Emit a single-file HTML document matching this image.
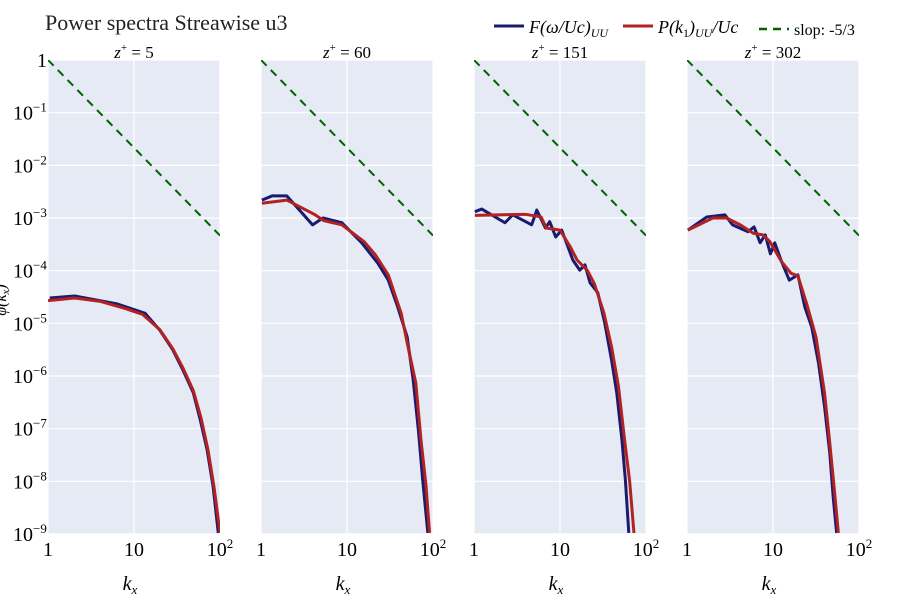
<!DOCTYPE html>
<html><head><meta charset="utf-8"><style>
body{margin:0;background:#fff;}
svg{display:block;font-family:"Liberation Serif",serif;}
</style></head><body>
<svg id="chart" width="900" height="600" xmlns="http://www.w3.org/2000/svg">
<text x="45" y="30" font-size="22" fill="#222">Power spectra Streawise u3</text>
<g>
<line x1="494" y1="26" x2="524" y2="26" stroke="#1a1a6e" stroke-width="3"/>
<text x="529" y="33" font-size="18" font-style="italic">F(ω/Uc)<tspan font-size="12" dy="4">UU</tspan></text>
<line x1="623" y1="26" x2="653" y2="26" stroke="#b22222" stroke-width="3"/>
<text x="658" y="33" font-size="18" font-style="italic">P(k<tspan font-size="12" dy="4" font-style="normal">1</tspan><tspan dy="-4">)</tspan><tspan font-size="12" dy="4">UU</tspan><tspan dy="-4">/Uc</tspan></text>
<line x1="759" y1="29" x2="789" y2="29" stroke="#006400" stroke-width="2.5" stroke-dasharray="8,6"/>
<text x="794" y="35" font-size="16">slop: -5/3</text>
</g>
<text transform="translate(6,300) rotate(-90)" text-anchor="middle" font-size="16" font-style="italic">φ(k<tspan font-size="11" dy="3">x</tspan><tspan dy="-3">)</tspan></text>
</svg>
<script>
const panelTitles=["5","60","151","302"];
const yTickExps=[0,-1,-2,-3,-4,-5,-6,-7,-8,-9];
const xTickExps=[0,1,2];
// series: log10(k) and log10(value)
const blueLogK=[
[0.02,0.31,0.80,1.13,1.30,1.45,1.57,1.69,1.77,1.85,1.92,1.98],
[0.01,0.13,0.30,0.60,0.72,0.94,1.17,1.36,1.48,1.59,1.70,1.77,1.83,1.88,1.94],
[0.01,0.09,0.36,0.45,0.67,0.73,0.83,0.88,0.95,1.02,1.15,1.23,1.29,1.35,1.44,1.52,1.60,1.66,1.72,1.76,1.80],
[0.01,0.23,0.44,0.53,0.71,0.78,0.85,0.91,0.97,1.02,1.10,1.19,1.29,1.37,1.45,1.53,1.60,1.66,1.70,1.74]];
const blueLogV=[
[-4.52,-4.48,-4.63,-4.81,-5.13,-5.5,-5.89,-6.32,-6.83,-7.4,-8.1,-8.98],
[-2.66,-2.58,-2.58,-3.13,-3.0,-3.09,-3.47,-3.86,-4.18,-4.69,-5.26,-6.08,-7.03,-7.97,-8.98],
[-2.88,-2.83,-3.09,-2.94,-3.13,-2.85,-3.19,-3.07,-3.36,-3.23,-3.8,-3.99,-3.89,-4.23,-4.42,-4.99,-5.7,-6.32,-7.21,-7.97,-8.98],
[-3.23,-2.98,-2.94,-3.13,-3.26,-3.17,-3.47,-3.32,-3.68,-3.47,-3.83,-4.18,-4.08,-4.69,-5.07,-5.76,-6.59,-7.46,-8.3,-8.98]];
const redLogK=[
[0.0,0.31,0.6,0.9,1.1,1.30,1.45,1.57,1.69,1.78,1.86,1.93,2.0],
[0.01,0.30,0.63,0.73,0.94,1.20,1.33,1.48,1.63,1.71,1.80,1.86,1.92,1.96],
[0.01,0.60,0.78,0.84,1.0,1.12,1.2,1.32,1.4,1.51,1.6,1.68,1.75,1.81,1.86],
[0.01,0.30,0.46,0.62,0.77,0.88,0.96,1.10,1.21,1.29,1.39,1.50,1.60,1.66,1.71,1.76]];
const redLogV=[
[-4.57,-4.52,-4.58,-4.72,-4.83,-5.12,-5.48,-5.85,-6.28,-6.8,-7.4,-8.1,-8.98],
[-2.72,-2.66,-2.94,-3.05,-3.13,-3.45,-3.7,-4.08,-4.81,-5.45,-6.13,-7.21,-8.1,-8.98],
[-2.95,-2.93,-2.98,-3.19,-3.23,-3.55,-3.8,-4.0,-4.25,-4.8,-5.45,-6.2,-7.2,-8.0,-8.98],
[-3.23,-3.0,-3.0,-3.13,-3.29,-3.32,-3.44,-3.83,-4.05,-4.1,-4.62,-5.26,-6.33,-7.27,-8.1,-8.98]];
const slopeLogK=[0,2];
const slopeLogV=[0,-10/3];

const NS="http://www.w3.org/2000/svg";
const svg=document.getElementById('chart');
const panelX=[48,261,474,687], PW=172, PT=60, PB=534;
function mk(t,a,p){const e=document.createElementNS(NS,t);for(const k in a)e.setAttribute(k,a[k]);(p||svg).appendChild(e);return e;}
const yS=v=>PT+(0-v)*(PB-PT)/9;
const defs=mk('defs',{});
panelX.forEach((x0,i)=>{
  const xS=l=>x0+l*PW/2;
  const cp=mk('clipPath',{id:'c'+i},defs);mk('rect',{x:x0,y:PT,width:PW,height:PB-PT},cp);
  const g=mk('g',{});
  
  
  const bg=mk('rect',{x:x0,y:PT,width:PW,height:PB-PT,fill:'#e5eaf4'},g);
  
  
  yTickExps.forEach(e=>{mk('line',{x1:x0,x2:x0+PW,y1:yS(e),y2:yS(e),stroke:'#fff','stroke-width':1.2},g);});
  xTickExps.forEach(e=>{mk('line',{x1:xS(e),x2:xS(e),y1:PT,y2:PB,stroke:'#fff','stroke-width':1.2},g);});
  const cg=mk('g',{'clip-path':'url(#c'+i+')'},g);
  const line=(lk,lv,st,w,da,name)=>{const p=mk('polyline',{points:lk.map((k,j)=>xS(k)+','+yS(lv[j])).join(' '),fill:'none',stroke:st,'stroke-width':w,'stroke-linejoin':'round'},cg);if(da)p.setAttribute('stroke-dasharray',da);
    
    };
  line(slopeLogK,slopeLogV,'#006400',2,'8,6','slope-line');
  line(blueLogK[i],blueLogV[i],'#1a1a6e',3,null,'series-f');
  line(redLogK[i],redLogV[i],'#b22222',3,null,'series-p');
  const t=mk('text',{x:x0+PW/2,y:PT-2,'text-anchor':'middle','font-size':17},g);
  
  
  t.innerHTML='<tspan font-style="italic">z</tspan><tspan font-size="11" dy="-7">+</tspan><tspan dy="7"> = '+panelTitles[i]+'</tspan>';
  xTickExps.forEach(e=>{const tt=mk('text',{x:xS(e),y:556,'text-anchor':'middle','font-size':20},g);
    
    
    tt.innerHTML=e==0?'1':e==1?'10':'10<tspan font-size="13" dy="-8">'+e+'</tspan>';});
  const xt=mk('text',{x:x0+PW/2-4,y:590,'text-anchor':'middle','font-size':20,'font-style':'italic'},g);
  
  
  xt.innerHTML='k<tspan font-size="13" dy="4">x</tspan>';
});
yTickExps.forEach(e=>{const t=mk('text',{x:e==0?47:33,y:yS(e)+7,'text-anchor':'end','font-size':20});
  
  
  if(e==0)t.textContent='1';else t.innerHTML='10<tspan font-size="13" dy="-8" x="'+(33)+'" text-anchor="start">'+(e==0?'':'−'+(-e))+'</tspan>';});
</script>
</body></html>
